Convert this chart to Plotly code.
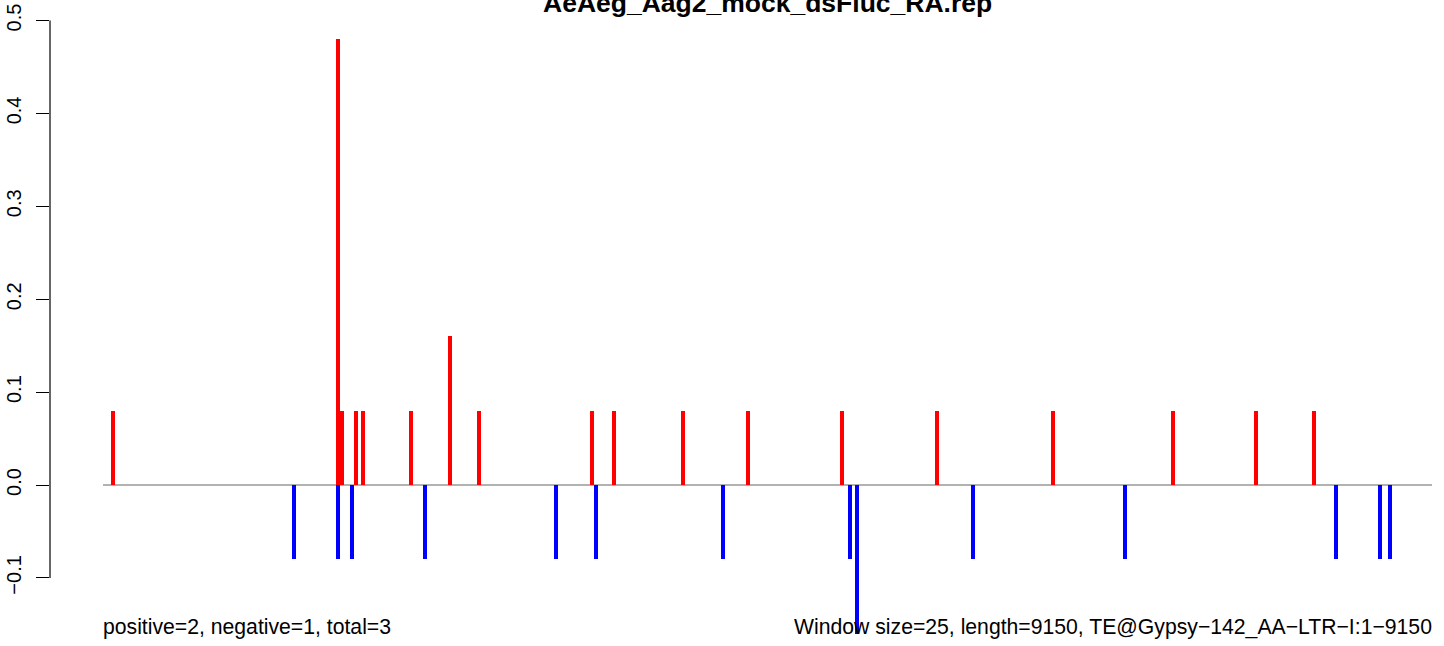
import plotly.graph_objects as go

# ---- data ----
title_text = "AeAeg_Aag2_mock_dsFluc_RA.rep"
seq_length = 9150
window_size = 25

pos_x = [67, 1616, 1643, 1740, 1788, 2121, 2389, 2587, 3365, 3518, 3993,
         4441, 5088, 5740, 6541, 7367, 7938, 8338]
pos_y = [0.08, 0.48, 0.08, 0.08, 0.08, 0.08, 0.16, 0.08, 0.08, 0.08, 0.08,
         0.08, 0.08, 0.08, 0.08, 0.08, 0.08, 0.08]

neg_x = [1315, 1618, 1714, 2217, 3119, 3394, 4269, 5143, 5191, 5990, 7036,
         8489, 8792, 8861]
neg_y = [-0.08, -0.08, -0.08, -0.08, -0.08, -0.08, -0.08, -0.08, -0.16,
         -0.08, -0.08, -0.08, -0.08, -0.08]

ytick_vals = [-0.1, 0.0, 0.1, 0.2, 0.3, 0.4, 0.5]
ytick_text = ["\u22120.1", "0.0", "0.1", "0.2", "0.3", "0.4", "0.5"]

left_note = "positive=2, negative=1, total=3"
right_note = ("Window size=25, length=9150, "
              "TE@Gypsy\u2212142_AA\u2212LTR\u2212I:1\u22129150")

FONT = "Liberation Sans, Arial, Helvetica, sans-serif"

fig = go.Figure()
fig.add_trace(go.Bar(x=pos_x, y=pos_y, width=27, marker_color="#FF0000",
                     marker_line_width=0, showlegend=False))
fig.add_trace(go.Bar(x=neg_x, y=neg_y, width=27, marker_color="#0000FF",
                     marker_line_width=0, showlegend=False))

# zero baseline
fig.add_shape(type="line", x0=0, x1=seq_length, y0=0, y1=0, xref="x", yref="y",
              line=dict(color="#999999", width=1.5), layer="below")
# R-style y axis line spanning tick range only
fig.add_shape(type="line", x0=0, x1=0, y0=ytick_vals[0], y1=ytick_vals[-1],
              xref="paper", yref="y", line=dict(color="black", width=1.2))

fig.add_annotation(x=0, y=-0.1529, xref="x", yref="y", text=left_note,
                   showarrow=False, xanchor="left", yanchor="middle", xshift=-2,
                   font=dict(family=FONT, size=21.2, color="black"))
fig.add_annotation(x=seq_length, y=-0.1529, xref="x", yref="y", text=right_note,
                   showarrow=False, xanchor="right", yanchor="middle", xshift=2,
                   font=dict(family=FONT, size=21.2, color="black"))
fig.add_annotation(x=seq_length / 2, y=0.5191, xref="x", yref="y",
                   text="<b>" + title_text + "</b>",
                   showarrow=False, xanchor="center", yanchor="middle",
                   font=dict(family=FONT, size=26.5, color="black"))

fig.update_layout(
    width=1444, height=646,
    margin=dict(l=50, r=12, t=0, b=0),
    paper_bgcolor="white", plot_bgcolor="white",
    barmode="overlay", bargap=0,
    font=dict(family=FONT, color="black"),
    xaxis=dict(range=[-365, seq_length], visible=False, showgrid=False,
               zeroline=False),
    yaxis=dict(range=[-0.1733, 0.5221], tickmode="array", tickvals=ytick_vals,
               ticktext=ytick_text, tickangle=-90, ticks="outside", ticklen=13,
               tickwidth=1.2, tickcolor="black", showgrid=False, zeroline=False,
               showline=False, automargin=False, ticklabelstandoff=7,
               tickfont=dict(family=FONT, size=20, color="black")),
)

fig.write_html("out.html", config={"displayModeBar": False},
               post_script="document.body.style.margin='0';")
